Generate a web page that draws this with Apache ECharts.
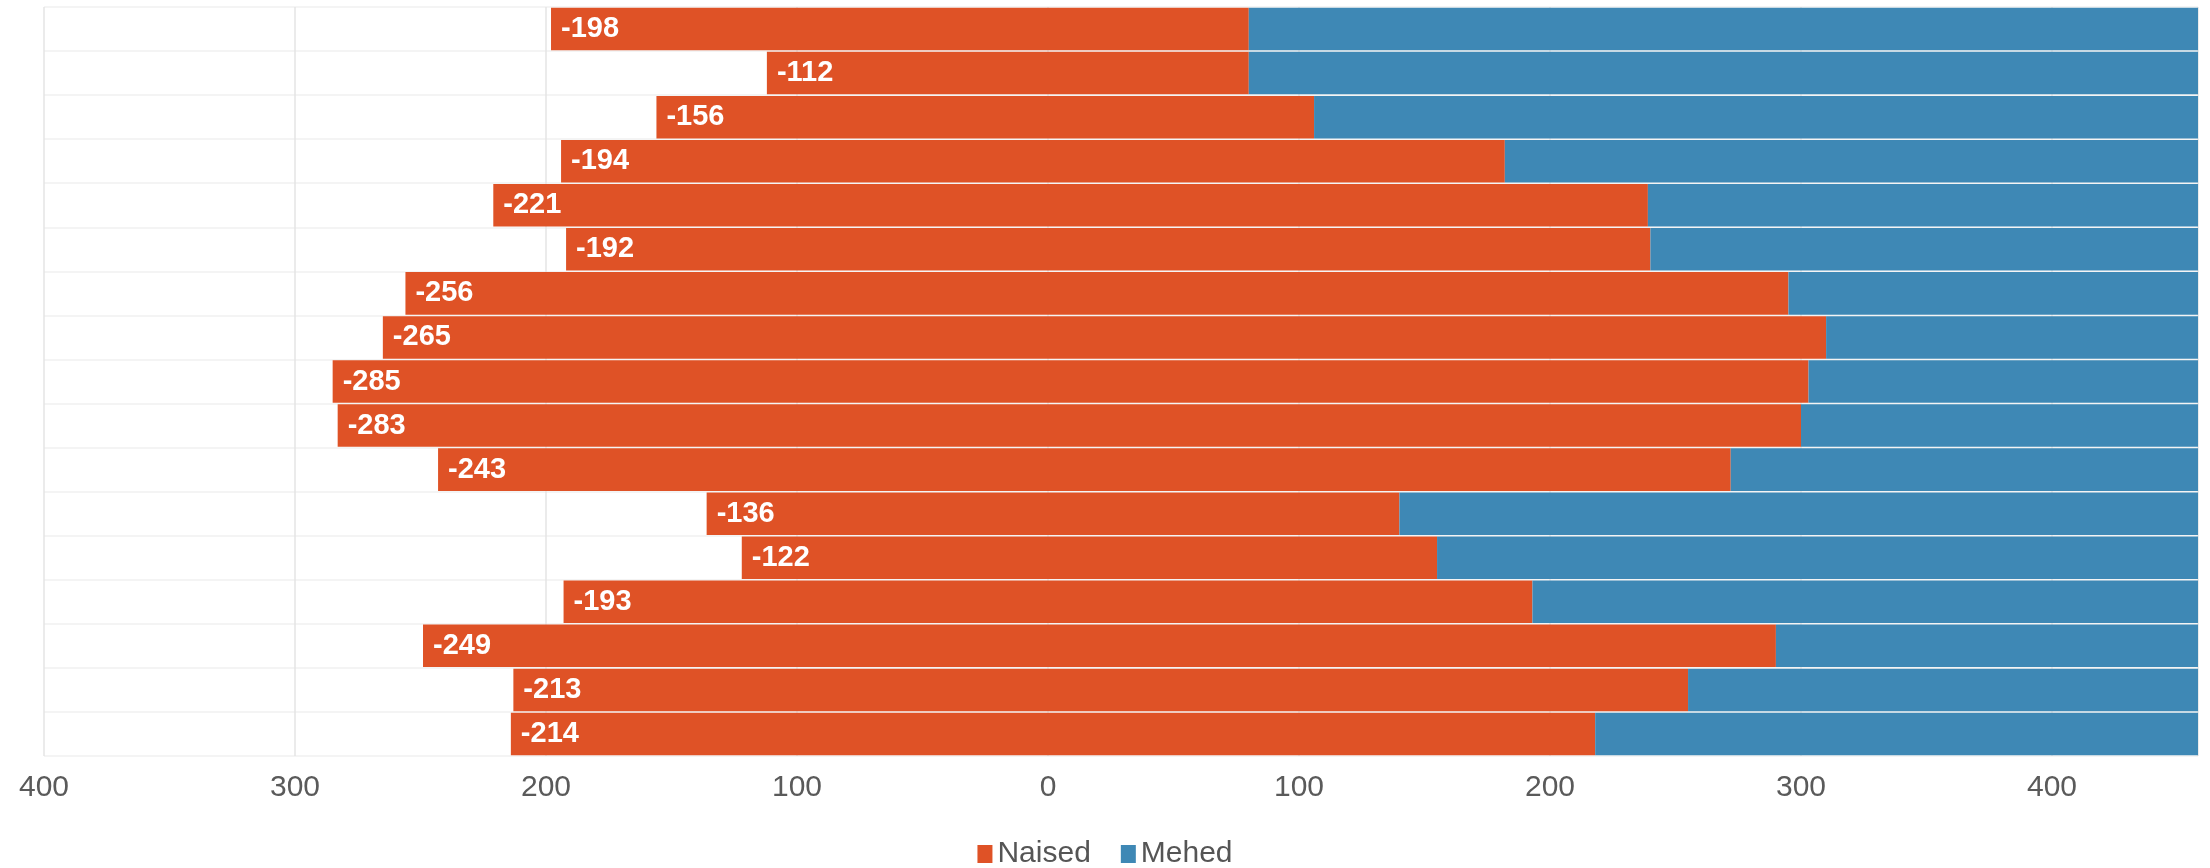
<!DOCTYPE html>
<html>
<head>
<meta charset="utf-8">
<script src="https://cdn.jsdelivr.net/npm/echarts@6/dist/echarts.min.js"></script>
<style>
html,body{margin:0;padding:0;background:#fff;}
#chart{width:2210px;height:868px;}
</style>
</head>
<body>
<div id="chart"></div>
<script>
// Rows, top to bottom
const categories = ['r1','r2','r3','r4','r5','r6','r7','r8','r9','r10','r11','r12','r13','r14','r15','r16','r17'];
// Naised (labelled, negative side)
const naisedValues = [-198, -112, -156, -194, -221, -192, -256, -265, -285, -283, -243, -136, -122, -193, -249, -213, -214];
// Orange part continuing on the right side of zero
const naisedRightPart = [80, 80, 106, 182, 239, 240, 295, 310, 303, 300, 272, 140, 155, 193, 290, 255, 218];
// Mehed (blue), runs past the right edge of the plot
const mehedValues = [400, 400, 400, 400, 400, 400, 400, 400, 400, 400, 400, 400, 400, 400, 400, 400, 400];
const xTicks = [-400, -300, -200, -100, 0, 100, 200, 300, 400];

const ORANGE = '#DF5226';
const BLUE = '#3E88B5';
const FONT = 'Liberation Sans, Arial, sans-serif';

const chart = echarts.init(document.getElementById('chart'), null, {renderer: 'canvas'});
chart.setOption({
  animation: false,
  backgroundColor: '#ffffff',
  color: [ORANGE, BLUE],
  grid: {left: 44, right: 12, top: 7, height: 749, containLabel: false},
  legend: {
    data: ['Naised', 'Mehed'],
    left: 'center',
    top: 834,
    icon: 'rect',
    itemWidth: 15,
    itemHeight: 18,
    itemGap: 30,
    textStyle: {fontFamily: FONT, fontSize: 30, color: '#555'}
  },
  xAxis: {
    type: 'value',
    min: xTicks[0],
    max: 458.1673,
    interval: 100,
    axisLine: {show: false},
    axisTick: {show: false},
    splitLine: {show: true, lineStyle: {color: '#e4e4e4', width: 1.5}},
    axisLabel: {
      margin: 17,
      fontFamily: FONT,
      fontSize: 30,
      color: '#5a5a5a',
      showMaxLabel: false,
      formatter: v => xTicks.indexOf(v) >= 0 ? String(Math.abs(v)) : ''
    }
  },
  yAxis: {
    type: 'category',
    data: categories,
    inverse: true,
    axisLine: {show: false, onZero: false},
    axisTick: {show: false},
    axisLabel: {show: false},
    splitLine: {show: true, lineStyle: {color: '#f4f4f4', width: 2}}
  },
  series: [
    {
      name: 'Naised',
      type: 'bar',
      stack: 'total',
      barCategoryGap: '3.5%',
      itemStyle: {color: ORANGE},
      label: {
        show: true,
        position: 'insideLeft',
        distance: 10,
        color: '#fff',
        fontFamily: FONT,
        fontWeight: 'bold',
        fontSize: 29,
        formatter: '{c}'
      },
      data: naisedValues
    },
    {
      name: 'Naised',
      type: 'bar',
      stack: 'total',
      barCategoryGap: '3.5%',
      itemStyle: {color: ORANGE},
      data: naisedRightPart
    },
    {
      name: 'Mehed',
      type: 'bar',
      stack: 'total',
      barCategoryGap: '3.5%',
      itemStyle: {color: BLUE},
      data: mehedValues
    }
  ]
});
</script>
</body>
</html>
